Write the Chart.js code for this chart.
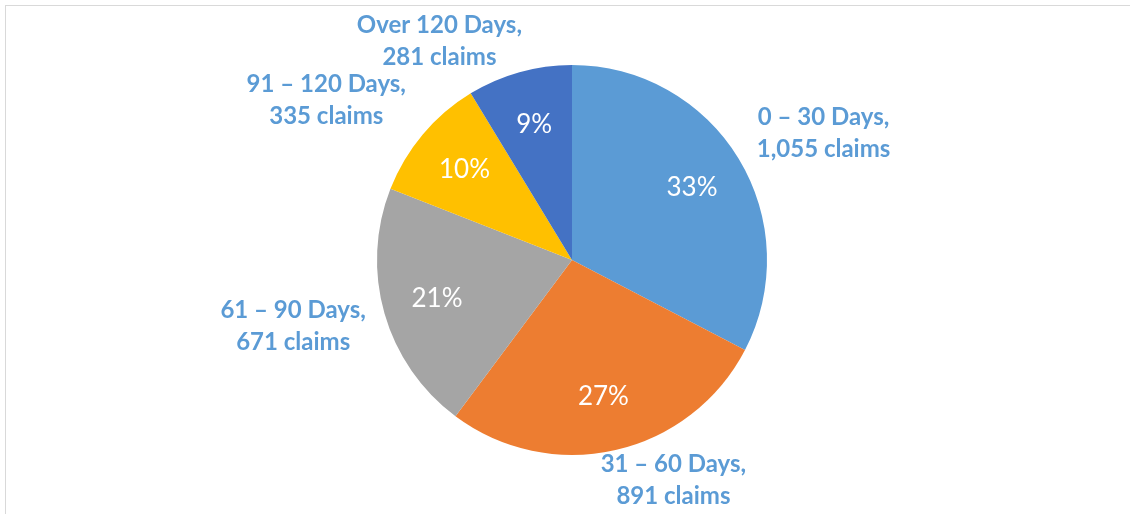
<!DOCTYPE html>
<html>
<head>
<meta charset="utf-8">
<script src="https://cdn.jsdelivr.net/npm/chart.js@4"></script>
<style>
    html, body { margin: 0; padding: 0; background: #fff; }
    #wrap { position: relative; width: 1130px; height: 514px; overflow: hidden; }
    #frame { position: absolute; left: 5px; top: 5px; width: 1200px; height: 600px;
             border-left: 1px solid #d9d9d9; border-top: 1px solid #d9d9d9; }
    canvas { position: absolute; left: 0; top: 0; }
</style>
</head>
<body>
<div id="wrap">
    <div id="frame"></div>
    <canvas id="agingChart" width="1130" height="514"></canvas>
</div>
<script>
// Claims aging buckets
const buckets = ['0 – 30 Days', '31 – 60 Days', '61 – 90 Days', '91 – 120 Days', 'Over 120 Days'];
const claims = [1055, 891, 671, 335, 281];
const percentLabels = ['33%', '27%', '21%', '10%', '9%'];
const sliceColors = ['#5B9BD5', '#ED7D31', '#A5A5A5', '#FFC000', '#4472C4'];

// where Excel put the outside labels, in pie radii from the centre
const outsideLabelPos = [[1.29, -0.65], [0.52, 1.13], [-1.43, 0.34], [-1.26, -0.82], [-0.68, -1.12]];

const labelPlugin = {
    id: 'pieLabels',
    afterDatasetsDraw(chart) {
        const ctx = chart.ctx;
        const arcs = chart.getDatasetMeta(0).data;
        ctx.save();
        ctx.textAlign = 'center';
        ctx.textBaseline = 'middle';
        arcs.forEach((arc, i) => {
            const mid = (arc.startAngle + arc.endAngle) / 2;
            const r = arc.outerRadius;

            // percentage inside the slice
            ctx.fillStyle = '#ffffff';
            ctx.font = '26px Lato, "Open Sans", sans-serif';
            ctx.fillText(percentLabels[i], arc.x + Math.cos(mid) * r * 0.72, arc.y + Math.sin(mid) * r * 0.72);

            // category + count outside
            const lx = arc.x + outsideLabelPos[i][0] * r;
            const ly = arc.y + outsideLabelPos[i][1] * r;
            ctx.fillStyle = '#5B9BD5';
            ctx.font = 'bold 24px Lato, "Open Sans", sans-serif';
            ctx.fillText(buckets[i] + ',', lx, ly - 16);
            ctx.fillText(claims[i].toLocaleString('en-US') + ' claims', lx, ly + 16);
        });
        ctx.restore();
    }
};

new Chart(document.getElementById('agingChart').getContext('2d'), {
    type: 'pie',
    data: {
        labels: buckets,
        datasets: [{
            data: claims,
            backgroundColor: sliceColors,
            borderWidth: 0
        }]
    },
    options: {
        responsive: false,
        animation: false,
        layout: {
            padding: { left: 377, right: 363, top: 65, bottom: 59 }
        },
        plugins: {
            legend: { display: false },
            tooltip: { enabled: false }
        }
    },
    plugins: [labelPlugin]
});
</script>
</body>
</html>
